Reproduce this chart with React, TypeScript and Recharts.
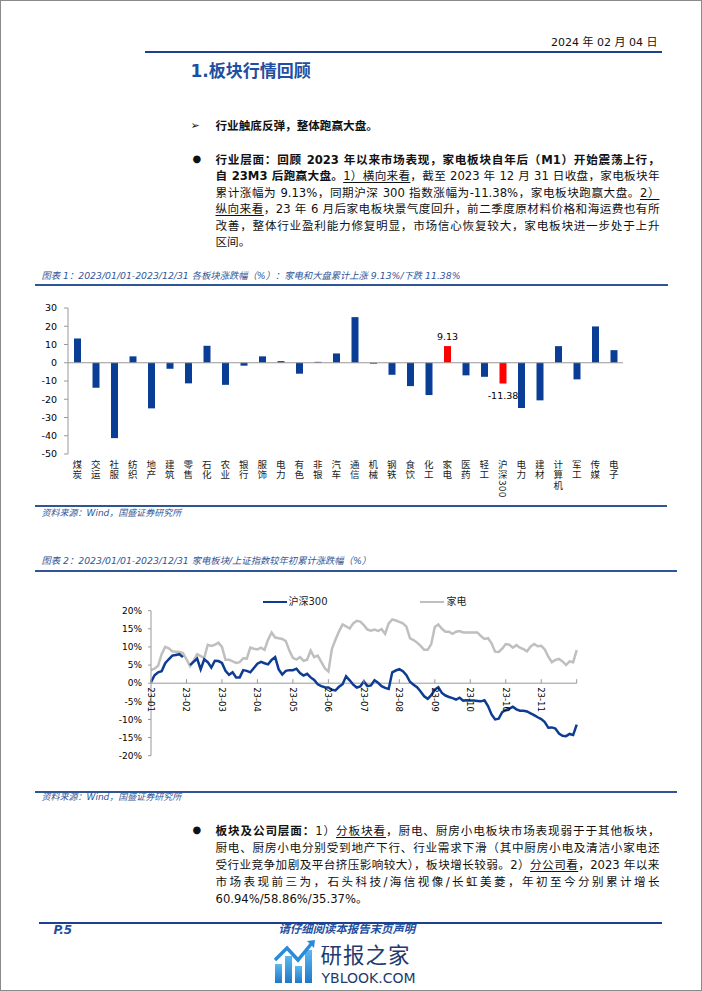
import React from 'react';
import { BarChart, Bar, XAxis, YAxis, ReferenceLine, Cell, LabelList, LineChart, Line } from 'recharts';

// ---------- Chart 1 data ----------
const sectors = ['煤炭', '交运', '社服', '纺织', '地产', '建筑', '零售', '石化', '农业', '银行', '服饰', '电力', '有色', '非银', '汽车', '通信', '机械', '钢铁', '食饮', '化工', '家电', '医药', '轻工', '沪深300', '电力', '建材', '计算机', '军工', '传媒', '电子'];
const sectorReturns = [13.3, -13.7, -41.3, 3.5, -25.0, -3.3, -11.3, 9.3, -12.1, -1.6, 3.5, 0.9, -6.0, 0.5, 5.1, 25.0, -0.5, -6.6, -12.8, -17.7, 9.13, -6.9, -7.7, -11.38, -24.8, -20.6, 9.1, -9.1, 19.9, 6.9];
const highlighted = ['家电', '沪深300'];
const sectorTicks = [30, 20, 10, 0, -10, -20, -30, -40, -50];

// ---------- Chart 2 data ----------
const monthLabels = ['23-01', '23-02', '23-03', '23-04', '23-05', '23-06', '23-07', '23-08', '23-09', '23-10', '23-10', '23-11'];
const seriesNames = ['沪深300', '家电'];
const hs300 = [
  0.3, 2.2, 3.0, 3.3, 5.5, 6.6, 7.6, 7.8, 8.0, 7.2,
  null, 5.0, 5.9, 6.8, 3.8, 6.6, 5.8, 4.3, 6.2, 6.1,
  5.6, 3.4, 2.3, 3.0, 1.6, 1.6, 3.6, 3.4, 3.0, 4.2,
  5.4, 5.9, 5.5, 5.2, 6.4, 7.2, 3.8, 2.4, 3.4, 3.6,
  3.6, 4.0, 2.8, 2.1, 2.6, 1.6, 0.9, -0.3, -0.8, -1.1,
  -1.2, -1.8, -2.0, -1.0, -0.3, 1.9, 0.8, -0.4, -1.2, -0.9,
  0.5, -0.8, -0.6, 0.8, 0.1, -0.8, -1.3, -1.6, 3.0, 3.5,
  3.9, 3.3, 2.2, 0.4, -0.4, -1.1, -2.3, -3.6, -4.3, -3.3,
  -1.8, -1.1, -2.7, -3.4, -3.8, -4.1, -4.5, -4.0, -4.8, -4.7,
  -4.8, -4.8, -4.9, -5.0, -4.7, -6.3, -8.6, -10.0, -9.8, -8.0,
  -7.4, -7.0, -6.5, -7.2, -7.6, -7.6, -7.8, -8.3, -8.8, -9.4,
  -9.9, -10.7, -12.3, -12.2, -12.5, -13.9, -14.5, -14.6, -14.0, -14.3,
  -11.4,
];
const jiadian = [
  3.6, 4.0, 4.8, 8.0, 10.0, 9.6, 8.8, 8.7, 8.6, 8.3,
  6.6, 4.7, 6.2, 8.0, 7.5, 7.0, 10.6, 10.3, 10.6, 11.2,
  10.0, 6.5, 6.5, 6.0, 5.6, 5.8, 6.9, 6.8, 9.8, 9.5,
  9.3, 9.8, 9.2, 12.0, 14.0, 12.6, 12.4, 12.2, 11.6, 9.0,
  7.0, 6.5, 7.2, 6.2, 6.5, 9.0, 7.2, 7.6, 5.9, 4.1,
  3.2, 9.5, 12.0, 14.3, 16.2, 15.7, 15.1, 16.5, 17.2, 17.0,
  16.0, 14.8, 14.5, 14.8, 14.4, 14.9, 13.6, 16.5, 17.6, 17.3,
  16.9, 16.5, 15.6, 12.4, 11.9, 11.2, 10.3, 9.2, 9.2, 10.8,
  15.5, 16.2, 15.0, 14.2, 14.2, 13.6, 14.2, 14.4, 14.0, 14.0,
  14.0, 14.0, 14.0, 13.0, 12.2, 12.4, 11.0, 8.7, 8.6, 9.5,
  10.8, 10.6, 9.8, 10.5, 9.8, 9.4, 8.8, 10.1, 10.8, 10.2,
  10.3, 9.3, 7.3, 5.8, 6.4, 6.7, 6.0, 5.0, 6.0, 5.8,
  9.1,
];
const pctTicks = [20, 15, 10, 5, 0, -5, -10, -15, -20];
const monthTickPositions = [0, 10, 20, 30, 40, 50, 60, 70, 80, 90, 100, 110, 120];

// ---------- styles ----------
const SANS = '"DejaVu Sans", "Noto Sans CJK SC", sans-serif';
const CJK = '"Noto Sans CJK SC", "DejaVu Sans", sans-serif';
const NAVY = '#1F3F8F';
const TITLE_BLUE = '#2F5597';
const BAR_BLUE = '#0A3D96';
const LINE_BLUE = '#0E3C93';
const LINE_GRAY = '#BFBFBF';
const AXIS_GRAY = '#999999';
const PLOT2_H = 145;

const barData = sectors.map((name, i) => ({
  name,
  value: sectorReturns[i],
  label: highlighted.includes(name) ? sectorReturns[i].toFixed(2) : '',
}));
const lineData = hs300.map((v, i) => ({ i, hs: v, jd: jiadian[i] }));

const SectorTick = (props: any) => {
  const { x, y, payload } = props;
  const name: string = String(payload.value);
  return (
    <text
      x={x}
      y={y + 6}
      textAnchor="start"
      fontSize={9.5}
      fill="#222"
      fontFamily={CJK}
      style={{ writingMode: 'vertical-rl', letterSpacing: '0.6px' } as any}
    >
      {name}
    </text>
  );
};

const ValueLabel = (props: any) => {
  const vb = props.viewBox && props.viewBox.width !== undefined ? props.viewBox : props;
  const { x, y, width, height } = vb;
  const value = props.value;
  if (value === '' || value === undefined || value === null) return null;
  const num = parseFloat(value);
  const top = Math.min(y, y + height);
  const bottom = Math.max(y, y + height);
  const cx = x + width / 2;
  return (
    <text x={cx} y={num >= 0 ? top - 6 : bottom + 15} textAnchor="middle" fontSize={9.5} fill="#000" fontFamily={SANS}>
      {value}
    </text>
  );
};

const MonthTick = (props: any) => {
  const { x, y, payload } = props;
  const zeroY = y - PLOT2_H / 2;
  const label = monthLabels[Math.round(payload.value / 10)];
  return (
    <g>
      <line x1={x} x2={x} y1={zeroY - 4} y2={zeroY} stroke={AXIS_GRAY} strokeWidth={1} />
      {label && (
        <text transform={`translate(${x},${zeroY + 4}) rotate(90)`} dy="0.35em" fontSize={8.5} fill="#000" fontFamily={SANS}>
          {label}
        </text>
      )}
    </g>
  );
};

const Ln = ({ y, x = 216, w = 444, last = false, size = 11.6, children }: any) => (
  <div
    style={{
      position: 'absolute',
      left: x,
      top: y - 9,
      width: w,
      height: 18,
      lineHeight: '18px',
      fontSize: size,
      textAlign: 'justify',
      textAlignLast: last ? 'left' : 'justify',
      color: '#111',
      fontFamily: SANS,
    } as any}
  >
    {children}
  </div>
);

const U = ({ children }: any) => <span style={{ textDecoration: 'underline', textUnderlineOffset: 2 }}>{children}</span>;

const HLine = ({ x1, x2, y, h = 1.5, color = NAVY }: any) => (
  <div style={{ position: 'absolute', left: x1, top: y - h / 2, width: x2 - x1, height: h, background: color }} />
);

const Txt = ({ x, y, size, children, style = {} }: any) => (
  <div style={{ position: 'absolute', left: x, top: y - size * 0.75, fontSize: size, lineHeight: `${size * 1.5}px`, height: size * 1.5, whiteSpace: 'nowrap', fontFamily: SANS, ...style }}>
    {children}
  </div>
);

const CTxt = ({ x, y, size, children, style = {} }: any) => (
  <div style={{ position: 'absolute', left: x, top: y - size / 2, fontSize: size, lineHeight: `${size}px`, height: size, whiteSpace: 'nowrap', fontFamily: SANS, ...style }}>
    {children}
  </div>
);

export default function App() {
  return (
    <div
      style={{
        position: 'absolute',
        left: 0,
        top: 0,
        width: 702,
        height: 991,
        boxSizing: 'border-box',
        border: '1.5px solid #8a8a8a',
        background: '#fff',
        fontFamily: SANS,
        overflow: 'hidden',
      }}
    >
      <div style={{ position: 'absolute', left: -1.5, top: -1.5, width: 702, height: 991 }}>
        {/* header */}
        <div style={{ position: 'absolute', right: 702 - 658, top: 43 - 8, fontSize: 11, lineHeight: '16px', color: '#111', whiteSpace: 'nowrap' }}>
          2024 年 02 月 04 日
        </div>
        <HLine x1={145} x2={662} y={52} h={2} />
        <Txt x={191} y={72} size={17} style={{ fontWeight: 700, color: '#1F4FA0' }}>1.板块行情回顾</Txt>

        <Txt x={191} y={127} size={11} style={{ color: '#111' }}>➢</Txt>
        <Txt x={216} y={127} size={11.6} style={{ fontWeight: 700, color: '#111' }}>行业触底反弹，整体跑赢大盘。</Txt>

        {/* paragraph 1 */}
        <Txt x={193} y={159} size={10} style={{ color: '#111' }}>●</Txt>
        <Ln y={160}><b>行业层面：回顾 2023 年以来市场表现，家电板块自年后（M1）开始震荡上行，</b></Ln>
        <Ln y={176.5}><b>自 23M3 后跑赢大盘。</b><U>1）横向来看</U>，截至 2023 年 12 月 31 日收盘，家电板块年</Ln>
        <Ln y={193}>累计涨幅为 9.13%，同期沪深 300 指数涨幅为-11.38%，家电板块跑赢大盘。<U>2）</U></Ln>
        <Ln y={209.5}><U>纵向来看</U>，23 年 6 月后家电板块景气度回升，前二季度原材料价格和海运费也有所</Ln>
        <Ln y={226}>改善，整体行业盈利能力修复明显，市场信心恢复较大，家电板块进一步处于上升</Ln>
        <Ln y={242.5} last>区间。</Ln>

        {/* chart 1 */}
        <Txt x={42} y={276} size={9.3} style={{ fontStyle: 'italic', color: TITLE_BLUE }}>
          图表 1：2023/01/01-2023/12/31 各板块涨跌幅（%）：家电和大盘累计上涨 9.13%/下跌 11.38%
        </Txt>
        <HLine x1={35} x2={668} y={285.7} h={1.5} color={TITLE_BLUE} />

        <div style={{ position: 'absolute', left: 0, top: 295 }}>
          <BarChart width={702} height={210} data={barData} margin={{ top: 13, right: 79, bottom: 5, left: 0 }} barCategoryGap={0}>
            <YAxis
              width={68}
              domain={[-50, 30]}
              ticks={sectorTicks}
              interval={0}
              axisLine={{ stroke: AXIS_GRAY }}
              tickLine={{ stroke: AXIS_GRAY }}
              tickSize={4}
              tickMargin={7}
              tick={{ fontSize: 9.5, fill: '#000', fontFamily: SANS }}
            />
            <XAxis
              dataKey="name"
              height={46}
              interval={0}
              axisLine={false}
              tickLine={false}
              tickSize={0}
              tickMargin={0}
              tick={<SectorTick />}
            />
            <ReferenceLine y={0} stroke={AXIS_GRAY} strokeWidth={1} />
            <Bar dataKey="value" barSize={7} isAnimationActive={false}>
              {barData.map((d, i) => (
                <Cell key={i} fill={highlighted.includes(d.name) ? '#FF0000' : BAR_BLUE} />
              ))}
              <LabelList dataKey="label" content={<ValueLabel />} />
            </Bar>
          </BarChart>
        </div>

        <HLine x1={35} x2={667} y={506.7} h={1.5} color={TITLE_BLUE} />
        <Txt x={42} y={514} size={9} style={{ fontStyle: 'italic', color: TITLE_BLUE }}>资料来源：Wind，国盛证券研究所</Txt>

        {/* chart 2 */}
        <Txt x={42} y={561.5} size={9.3} style={{ fontStyle: 'italic', color: TITLE_BLUE }}>
          图表 2：2023/01/01-2023/12/31 家电板块/上证指数较年初累计涨跌幅（%）
        </Txt>
        <HLine x1={35} x2={677} y={571.7} h={1.5} color={TITLE_BLUE} />

        {/* legend */}
        <div style={{ position: 'absolute', left: 263, top: 601, width: 24, height: 2.5, background: LINE_BLUE }} />
        <Txt x={289} y={602} size={10} style={{ color: '#222' }}>{seriesNames[0]}</Txt>
        <div style={{ position: 'absolute', left: 420, top: 601, width: 24, height: 2.5, background: LINE_GRAY }} />
        <Txt x={447} y={602} size={10} style={{ color: '#222' }}>{seriesNames[1]}</Txt>

        <div style={{ position: 'absolute', left: 0, top: 590 }}>
          <LineChart width={702} height={190} data={lineData} margin={{ top: 20.7, right: 125.3, bottom: 4.3, left: 0 }}>
            <YAxis
              width={151}
              domain={[-20, 20]}
              ticks={pctTicks}
              interval={0}
              tickFormatter={(v: number) => `${v}%`}
              axisLine={{ stroke: AXIS_GRAY }}
              tickLine={{ stroke: AXIS_GRAY }}
              tickSize={3}
              tickMargin={6}
              tick={{ fontSize: 9, fill: '#000', fontFamily: SANS }}
            />
            <XAxis
              dataKey="i"
              type="number"
              domain={[0, 120]}
              ticks={monthTickPositions}
              interval={0}
              height={20}
              axisLine={false}
              tickLine={false}
              tickSize={0}
              tickMargin={0}
              tick={<MonthTick />}
            />
            <ReferenceLine y={0} stroke={AXIS_GRAY} strokeWidth={1} />
            <Line dataKey="jd" name={seriesNames[1]} type="linear" stroke={LINE_GRAY} strokeWidth={2.5} dot={false} isAnimationActive={false} />
            <Line dataKey="hs" name={seriesNames[0]} type="linear" stroke={LINE_BLUE} strokeWidth={2.5} dot={false} connectNulls={false} isAnimationActive={false} />
          </LineChart>
        </div>

        <HLine x1={35} x2={677} y={792.7} h={1.5} color={TITLE_BLUE} />
        <Txt x={42} y={798.5} size={9} style={{ fontStyle: 'italic', color: TITLE_BLUE }}>资料来源：Wind，国盛证券研究所</Txt>

        {/* paragraph 2 */}
        <Txt x={193} y={830} size={10} style={{ color: '#111' }}>●</Txt>
        <Ln y={831}><b>板块及公司层面：</b>1）<U>分板块看</U>，厨电、厨房小电板块市场表现弱于于其他板块，</Ln>
        <Ln y={848}>厨电、厨房小电分别受到地产下行、行业需求下滑（其中厨房小电及清洁小家电还</Ln>
        <Ln y={865}>受行业竞争加剧及平台挤压影响较大），板块增长较弱。2）<U>分公司看</U>，2023 年以来</Ln>
        <Ln y={882}>市场表现前三为，石头科技/海信视像/长虹美菱，年初至今分别累计增长</Ln>
        <Ln y={899} last>60.94%/58.86%/35.37%。</Ln>

        {/* footer */}
        <HLine x1={39} x2={662.5} y={923.3} h={2} />
        <CTxt x={54} y={930.5} size={12} style={{ fontWeight: 700, fontStyle: 'italic', color: '#1F4FA0' }}>P.5</CTxt>
        <CTxt x={279} y={930.5} size={11.4} style={{ fontWeight: 700, fontStyle: 'italic', color: '#1F4FA0' }}>请仔细阅读本报告末页声明</CTxt>

        {/* watermark logo */}
        <svg style={{ position: 'absolute', left: 274, top: 940 }} width={42} height={44} viewBox="0 0 42 44">
          <defs>
            <linearGradient id="lg" x1="0" y1="0" x2="0" y2="1">
              <stop offset="0" stopColor="#5BB8F0" />
              <stop offset="1" stopColor="#1E78C8" />
            </linearGradient>
          </defs>
          <rect x={1} y={24} width={7} height={19} fill="url(#lg)" />
          <rect x={11} y={16} width={7} height={27} fill="url(#lg)" />
          <rect x={21} y={26} width={7} height={17} fill="url(#lg)" />
          <rect x={31} y={10} width={7} height={33} fill="url(#lg)" />
          <polyline points="1,20 13,8 24,20 38,3" fill="none" stroke="#2A8BD8" strokeWidth={3.5} />
          <polygon points="33,1 41,0 40,8" fill="#2A8BD8" />
        </svg>
        <CTxt x={321} y={954.5} size={21.5} style={{ color: '#1E3A6E', fontFamily: CJK, letterSpacing: '1px' }}>研报之家</CTxt>
        <CTxt x={322} y={978.6} size={14} style={{ color: '#1E3A6E' }}>YBLOOK.COM</CTxt>
      </div>
    </div>
  );
}
